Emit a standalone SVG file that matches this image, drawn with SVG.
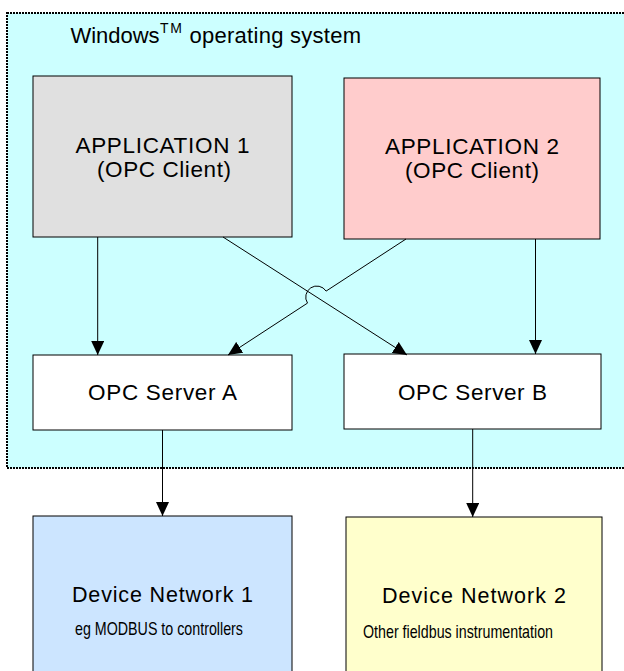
<svg xmlns="http://www.w3.org/2000/svg" width="624" height="671" viewBox="0 0 624 671">
<style>
  .box { stroke: #000; stroke-width: 1; }
  .lbl { font-family: "Liberation Sans", Arial, sans-serif; font-size: 22.5px; fill: #000; text-anchor: middle; }
  .dev { font-family: "Liberation Sans", Arial, sans-serif; font-size: 21.5px; fill: #000; text-anchor: middle; }
  .small { font-family: "Liberation Sans", Arial, sans-serif; font-size: 19px; fill: #000; }
  .conn { stroke: #000; stroke-width: 1; fill: none; marker-end: url(#arrow); }
</style>
<defs>
  <marker id="arrow" markerUnits="userSpaceOnUse" markerWidth="14" markerHeight="13" refX="14" refY="6.5" orient="auto">
    <path d="M0,0 L14,6.5 L0,13 z" fill="#000"/>
  </marker>
</defs>
<rect width="624" height="671" fill="#fff"/>
<g id="windows">
  <rect x="7" y="13" width="630" height="455" fill="#CCFFFF" stroke="#000" stroke-width="2" stroke-dasharray="2 1"/>
  <text font-family="Liberation Sans, Arial, sans-serif" font-size="22" fill="#000"><tspan x="70.5" y="43" textLength="89" lengthAdjust="spacing">Windows</tspan><tspan x="160" y="33" font-size="14" textLength="22" lengthAdjust="spacing">TM</tspan><tspan x="189.5" y="43" textLength="171.5" lengthAdjust="spacing">operating system</tspan></text>
</g>
<g id="app1">
  <rect class="box" x="33" y="76" width="259" height="161" fill="#E0E0E0"/>
  <text class="lbl" x="162.5" y="153" textLength="174" lengthAdjust="spacing">APPLICATION 1</text>
  <text class="lbl" x="164" y="177" textLength="134" lengthAdjust="spacing">(OPC Client)</text>
</g>
<g id="app2">
  <rect class="box" x="344" y="78" width="256" height="161" fill="#FFCCCC"/>
  <text class="lbl" x="472" y="153.5" textLength="174" lengthAdjust="spacing">APPLICATION 2</text>
  <text class="lbl" x="472" y="177.5" textLength="134" lengthAdjust="spacing">(OPC Client)</text>
</g>
<g id="serverA">
  <rect class="box" x="33" y="355" width="259" height="75" fill="#fff"/>
  <text class="lbl" x="162.5" y="400" textLength="149" lengthAdjust="spacing">OPC Server A</text>
</g>
<g id="serverB">
  <rect class="box" x="344" y="354" width="257" height="75" fill="#fff"/>
  <text class="lbl" x="472.5" y="399.5" textLength="149" lengthAdjust="spacing">OPC Server B</text>
</g>
<g id="device1">
  <rect class="box" x="33" y="516" width="259" height="170" fill="#CCE5FF"/>
  <text class="dev" x="162.5" y="602" textLength="181" lengthAdjust="spacing">Device Network 1</text>
  <text class="small" x="75" y="635" textLength="168" lengthAdjust="spacingAndGlyphs">eg MODBUS to controllers</text>
</g>
<g id="device2">
  <rect class="box" x="346" y="517" width="256" height="170" fill="#FFFFCC"/>
  <text class="dev" x="474" y="603" textLength="184" lengthAdjust="spacing">Device Network 2</text>
  <text class="small" x="363" y="637.5" textLength="190" lengthAdjust="spacingAndGlyphs">Other fieldbus instrumentation</text>
</g>
<g id="connectors">
  <path class="conn" d="M97.7,237 L97.7,355"/>
  <path class="conn" d="M535.5,239 L535.5,354"/>
  <path class="conn" d="M223,237 L407,355"/>
  <path class="conn" d="M406,239 L326.1,291.1 A11,11 0 0 0 307.5,303.1 L228,355"/>
  <path class="conn" d="M162.5,430 L162.5,516"/>
  <path class="conn" d="M472.7,429 L472.7,517"/>
</g>
</svg>
